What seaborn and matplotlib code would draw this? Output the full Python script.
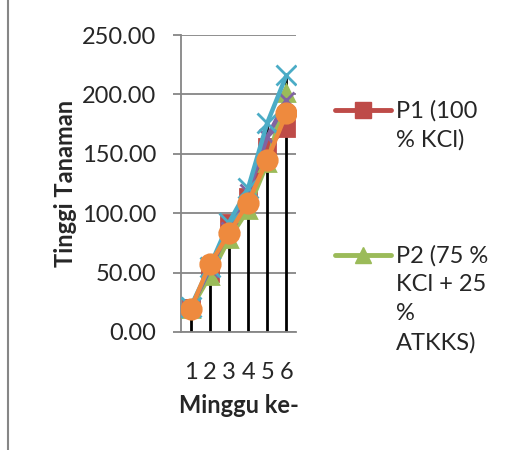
import numpy as np
import pandas as pd
import seaborn as sns
import matplotlib.pyplot as plt
from matplotlib.lines import Line2D

# data
minggu = [1, 2, 3, 4, 5, 6]
p1 = [20, 50, 92, 114, 156, 172]
p2 = [19, 47, 78, 103, 142, 201]
p3 = [20, 53, 86, 118, 164, 195]
p4 = [21, 55, 92, 121, 176, 216]
p5 = [19, 57, 83, 109, 145, 184]
labels = ["P1 (100\n% KCl)", "P2 (75 %\nKCl + 25\n%\nATKKS)", "P3", "P4", "P5"]
colors = ["#BE4B48", "#9BBB59", "#8064A2", "#4BACC6", "#EE8A3E"]
yticks = [0, 50, 100, 150, 200, 250]

df = pd.DataFrame({
    "minggu": minggu * 5,
    "tinggi": p1 + p2 + p3 + p4 + p5,
    "perlakuan": np.repeat(labels, len(minggu)),
})

sns.set_style("white")
plt.rcParams["font.family"] = ["Lato", "DejaVu Sans"]

W, H = 510, 450
fig = plt.figure(figsize=(5.1, 4.5), dpi=100)
ax = fig.add_axes([181 / W, 1 - 332 / H, 115 / W, 297 / H])

grid = "#868686"
ax.set_ylim(0, 250)
ax.set_xlim(0.5, 6.5)
ax.set_yticks(yticks)
ax.set_yticklabels([f"{v:.2f}" for v in yticks])
ax.set_xticks(minggu)
ax.yaxis.grid(True, color=grid, lw=1.3)
ax.set_axisbelow(True)
for s in ["top", "right"]:
    ax.spines[s].set_visible(False)
for s in ["left", "bottom"]:
    ax.spines[s].set_color(grid)
    ax.spines[s].set_linewidth(1.3)

# drop lines from the highest point of each week down to the axis
top = df.groupby("minggu")["tinggi"].max()
ax.vlines(top.index, 0, top.values, color="black", lw=2, zorder=2)

markers = ["s", "^", "x", "x", "o"]
sizes = [12, 12, 12, 14, 14]
for lab, c, m, ms in zip(labels, colors, markers, sizes):
    sns.lineplot(data=df[df["perlakuan"] == lab], x="minggu", y="tinggi",
                 color=c, marker=m, markersize=ms, markeredgecolor=c,
                 markeredgewidth=2, lw=3.2, ax=ax, zorder=3)

ax.tick_params(axis="y", which="both", left=True, length=6, width=1.3, color=grid,
               labelsize=17, pad=12)
ax.tick_params(axis="x", bottom=False, labelsize=17, pad=18)
ax.set_xlabel("Minggu ke-", fontsize=17, fontweight="bold", labelpad=8)
ax.set_ylabel("Tinggi Tanaman", fontsize=17, fontweight="bold", labelpad=3)

# legend (only the first two entries are visible in the original)
leg_y = [110, 255]
for i in range(2):
    y = 1 - leg_y[i] / H
    fig.add_artist(Line2D([335 / W, 391 / W], [y, y], color=colors[i], lw=3.5,
                          solid_capstyle="round"))
    fig.add_artist(Line2D([363 / W], [y], color=colors[i], marker=["s", "^"][i],
                          ms=12, lw=0))
    fig.text(396 / W, 1 - (leg_y[i] - 10) / H, labels[i], fontsize=17, va="top",
             ha="left", linespacing=1.45)

fig.add_artist(Line2D([8 / W, 8 / W], [0, 1], color=grid, lw=1.5))

fig.savefig("out.png", dpi=100)
